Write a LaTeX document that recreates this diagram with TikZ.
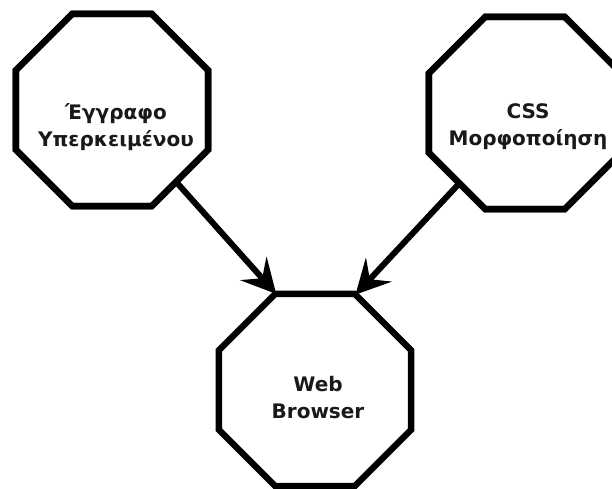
\documentclass[tikz,border=0pt]{standalone}
\usepackage{fontspec}
\setmainfont{DejaVu Sans}
\usetikzlibrary{shapes.geometric,arrows.meta}
\begin{document}
\begin{tikzpicture}[x=1pt,y=-1pt,
  octa/.style={regular polygon, regular polygon sides=8, minimum size=208pt,
    inner sep=0pt, outer sep=0pt, draw=black, line width=6.5pt, fill=white},
  lbl/.style={align=center, font=\fontsize{20}{27}\selectfont\bfseries, text=black!90},
  flow/.style={line width=6pt, -{Stealth[length=34pt, width=35pt, inset=13pt]}}]
  \useasboundingbox (0,0) rectangle (612,489);
  % three octagonal nodes
  \node[octa] (doc) at (112,110) {};
  \node[octa] (css) at (525,113) {};
  \node[octa] (web) at (315,390) {};
  \node[lbl] (doct) at (116,127) {Έγγραφο\\Υπερκειμένου};
  \node[lbl] (csst) at (528,127) {CSS\\Μορφοποίηση};
  \node[lbl] (webt) at (318,398) {Web\\Browser};
  % arrows ending at the upper corners of the browser node
  \draw[flow] (doc) -- (web.112.5);
  \draw[flow] (css) -- (web.67.5);
  % redraw the source outlines over the arrow tails
  \node[octa, fill=none] at (doc.center) {};
  \node[octa, fill=none] at (css.center) {};
\end{tikzpicture}
\end{document}
